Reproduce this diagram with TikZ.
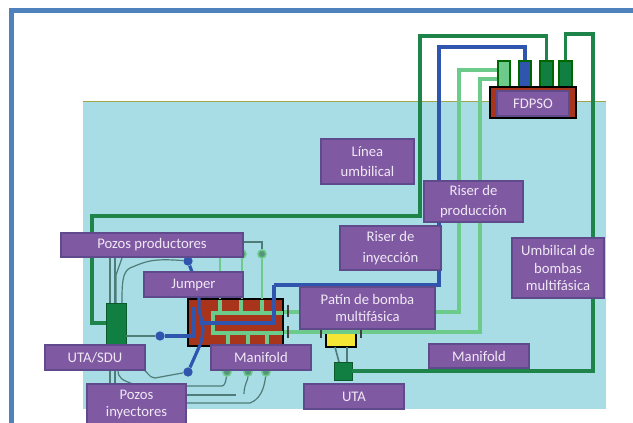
\documentclass[tikz,border=0pt]{standalone}
\usepackage{fontspec}
\setmainfont{Carlito}
\definecolor{frameblue}{HTML}{4F81BD}
\definecolor{sea}{HTML}{A8DDE6}
\definecolor{lab}{HTML}{8059A3}
\definecolor{labedge}{HTML}{5F4A8B}
\definecolor{labtxt}{HTML}{EFE8F4}
\definecolor{dkgreen}{HTML}{1E8449}
\definecolor{boxgreen}{HTML}{117F42}
\definecolor{ltgreen}{HTML}{6CCB8A}
\definecolor{myblue}{HTML}{2F55AE}
\definecolor{brick}{HTML}{A8341C}
\definecolor{wire}{HTML}{4F7B78}
\definecolor{yel}{HTML}{F5E535}
\tikzset{
  x=0.75pt,y=-0.75pt,
  labelbox/.style={draw=labedge,line width=1pt,fill=lab,text=labtxt,inner sep=0pt,align=center,font=\fontsize{11}{13.2}\selectfont},
  widelines/.style={font=\fontsize{11}{15.5}\selectfont},
  tank/.style={draw=black!60!green,line width=0.8pt,inner sep=0pt},
  umb/.style={draw=dkgreen,line width=2.4pt},
  prod/.style={draw=myblue,line width=2.4pt},
  inj/.style={draw=ltgreen,line width=2.4pt},
  thin wire/.style={draw=wire,line width=0.9pt},
  tick/.style={draw=black!75,line width=1.1pt},
  dot/.style={circle,fill=myblue,inner sep=0pt,minimum size=7pt},
  valve/.style={circle,draw=ltgreen,fill=wire!70!ltgreen,line width=1.2pt,inner sep=0pt,minimum size=6pt}
}
\newcommand{\bx}[7][]{\node[#1,minimum width={(#4-#2)*0.75pt},minimum height={(#5-#3)*0.75pt}] (#6) at ({(#2+#4)/2},{(#3+#5)/2}) {#7};}
\begin{document}
\begin{tikzpicture}
\useasboundingbox (0,0) rectangle (633,423);
\fill[white] (0,0) rectangle (633,423);
\fill[sea] (83,101) rectangle (606,409);
\draw[draw=olive!60!sea,line width=0.6pt] (83,101) -- (606,101);
\fill[frameblue] (9,8) rectangle (633,13);
\fill[frameblue] (9,8) rectangle (14,423);

% named equipment
\bx[tank,fill=ltgreen]{498}{61}{510}{87}{tA}{}
\bx[tank,fill=myblue]{519}{61}{531}{87}{tB}{}
\bx[tank,fill=boxgreen]{540}{61}{553}{87}{tC}{}
\bx[tank,fill=boxgreen]{559}{61}{572}{87}{tD}{}
\bx[draw=black,line width=2pt,fill=brick,inner sep=0pt]{490}{87}{576}{118}{hull}{}
\bx[draw=black,line width=2pt,fill=brick,inner sep=0pt]{188}{299}{283}{346}{mani}{}
\bx[fill=boxgreen,draw=boxgreen!70!black,inner sep=0pt]{106}{303}{126}{345}{sdu}{}
\bx[draw=black,line width=1.6pt,fill=yel,inner sep=0pt]{326}{329}{356}{347}{pump}{}
\bx[fill=boxgreen,draw=boxgreen!70!black,inner sep=0pt]{334}{362}{352}{380}{uta}{}
\node[dot] (d1) at (160,336) {};
\node[dot] (d2) at (188,261) {};
\node[dot] (d3) at (188,372) {};
\node[valve] (v1) at (262,254) {};
\node[valve] (v2) at (242,254) {};
\node[valve] (v3) at (227,372) {};
\node[valve] (v4) at (248,372) {};
\node[valve] (v5) at (266,372) {};

% risers and umbilicals
\draw[umb] (tC.north) |- (420,36) |- (92,216) |- (sdu.west |- 0,323);
\draw[umb] (tD.north) |- (593,34) |- (uta.east);
\draw[prod] (tB.north) |- (439,47) |- (274,285);
\draw[inj] (tA.west |- 0,70) -| (459,312) -- (mani.east |- 0,312);
\draw[inj] (tA.west |- 0,79) -| (480,332) -- (mani.east |- 0,332);

% thin well lines
\draw[thin wire] (110,258) -- (110,303);
\draw[thin wire] (115,258) -- (115,303);
\draw[thin wire] (122,258) -- (116,275) -- (116,303);
\draw[thin wire] (d2) .. controls (150,258) and (145,262) .. (130,268) .. controls (122,272) and (122,285) .. (122,303);
\draw[thin wire] (243,242) -| (v1);
\draw[inj,line width=1.2pt] (v1) -- (262,299);
\draw[inj,line width=1.2pt] (v2) -- (242,299);
\draw[inj,line width=1.2pt] (220,254) -- (220,299);
\draw[thin wire] (sdu.east |- d1) -- (d1);
\draw[thin wire] (110,345) -- (110,384);
\draw[thin wire] (115,345) -- (115,384);
\draw[thin wire] (118,370) .. controls (118,378) and (122,380) .. (133,384);
\draw[thin wire] (141,369) .. controls (148,370) and (148,378) .. (155,378) -- (d3);
\draw[thin wire] (186,386) -- (222,386) .. controls (225,386) and (226,380) .. (v3);
\draw[thin wire] (186,395) -- (236,395);
\draw[thin wire] (v4) .. controls (248,380) and (244,385) .. (244,394);
\draw[thin wire] (186,403) -- (250,403) .. controls (258,400) and (264,392) .. (v5);
\draw[thin wire,line width=1.2pt] (335,347) -- (339,362);
\draw[thin wire,line width=1.2pt] (347,347) -- (347,362);

% manifold internals
\draw[inj] (283,313) -- (213,313) -- (213,333) -- (283,333);
\foreach \x in {220,241,262} \draw[inj] (\x,300) -- (\x,313);
\foreach \x in {228,248,267} \draw[inj] (\x,333) -- (\x,345);
\draw[prod] (274,285) |- (200,323);
\draw[prod] (193,307) -- (193,336) -- (d1);
\draw[prod] (d2) -- (192,272);
\draw[prod] (199,297) -- (199,310) .. controls (203,325) and (205,330) .. (200,345) -- (d3);

% valve ticks
\draw[tick] (288,305) -- (288,317);
\draw[tick] (288,326) -- (288,338);
\draw[tick] (321,329) -- (321,338);
\draw[tick] (361,329) -- (361,338);

% labels
\bx[labelbox]{497}{91}{569}{116}{fdpso}{FDPSO}
\bx[labelbox,widelines]{321}{139}{414}{184}{lu}{Línea\\umbilical}
\bx[labelbox,widelines]{424}{181}{523}{222}{rp}{Riser de\\producción}
\bx[labelbox,widelines]{340}{226}{441}{270}{ri}{Riser de\\inyección}
\bx[labelbox]{512}{238}{604}{298}{ub}{Umbilical de\\bombas\\multifásica}
\bx[labelbox]{61}{233}{243}{257}{pp}{Pozos productores}
\bx[labelbox]{144}{272}{243}{297}{ju}{Jumper}
\bx[labelbox]{300}{287}{435}{329}{pa}{Patín de bomba\\multifásica}
\bx[labelbox]{45}{345}{145}{370}{us}{UTA/SDU}
\bx[labelbox]{211}{345}{311}{370}{m1}{Manifold}
\bx[labelbox]{429}{344}{529}{368}{m2}{Manifold}
\bx[labelbox]{304}{384}{404}{409}{ut}{UTA}
\bx[labelbox]{87}{384}{186}{425}{pi}{Pozos\\inyectores}
\end{tikzpicture}
\end{document}
